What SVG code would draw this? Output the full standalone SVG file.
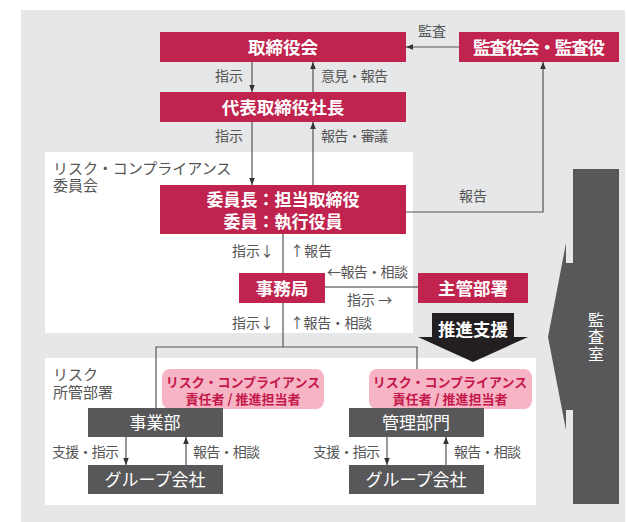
<svg xmlns="http://www.w3.org/2000/svg" width="627" height="522" viewBox="0 0 627 522">
<defs>
<style>
text{font-family:"Noto Sans CJK JP","Noto Sans",sans-serif}
.red{fill:#c0244e}
.dk{fill:#58585a}
.pill{fill:#f6b4c4}
.wt{fill:#fff;font-size:17.5px;font-weight:bold;text-anchor:middle}
.wd{fill:#fff;font-size:17px;text-anchor:middle}
.lb{fill:#555;font-size:14px}
.pt{fill:#c4174a;font-size:13px;font-weight:bold;text-anchor:middle}
.gt{fill:#555;font-size:15px}
.ln{stroke:#555;stroke-width:1.2;fill:none}
</style>
<marker id="ah" viewBox="0 0 10 10" refX="10" refY="5" markerWidth="7" markerHeight="7" markerUnits="userSpaceOnUse" orient="auto">
<path d="M0,1 L10,5 L0,9 z" fill="#333"/>
</marker>
</defs>
<rect x="21" y="10" width="604" height="512" fill="#e6e7e9"/>
<g id="committee-area">
<rect x="45" y="152" width="368" height="181" fill="#fff"/>
<text class="gt"><tspan x="53" y="174">リスク・コンプライアンス</tspan><tspan x="53" y="191">委員会</tspan></text>
</g>
<g id="dept-area">
<rect x="45" y="358" width="491" height="147" fill="#fff"/>
<text class="gt"><tspan x="53" y="380">リスク</tspan><tspan x="53" y="398">所管部署</tspan></text>
</g>
<g id="connectors">
<line class="ln" x1="459" y1="47" x2="406" y2="47" marker-end="url(#ah)"/>
<line class="ln" x1="252" y1="62" x2="252" y2="92" marker-end="url(#ah)"/>
<line class="ln" x1="313" y1="92" x2="313" y2="62" marker-end="url(#ah)"/>
<line class="ln" x1="252" y1="122" x2="252" y2="185" marker-end="url(#ah)"/>
<line class="ln" x1="313" y1="185" x2="313" y2="122" marker-end="url(#ah)"/>
<polyline class="ln" points="406,212 543,212 543,62" marker-end="url(#ah)"/>
<line class="ln" x1="283" y1="234" x2="283" y2="273"/>
<line class="ln" x1="283" y1="303" x2="283" y2="347"/>
<line class="ln" x1="325" y1="287" x2="418" y2="287" style="stroke:#333"/>
<polyline class="ln" points="156,408 156,347 417,347 417,369"/>
<line class="ln" x1="126" y1="437" x2="126" y2="465" marker-end="url(#ah)"/>
<line class="ln" x1="186" y1="465" x2="186" y2="437" marker-end="url(#ah)"/>
<line class="ln" x1="387" y1="437" x2="387" y2="465" marker-end="url(#ah)"/>
<line class="ln" x1="446" y1="465" x2="446" y2="437" marker-end="url(#ah)"/>
<text class="lb" x="432" y="36" text-anchor="middle">監査</text>
<text class="lb" x="243" y="81" text-anchor="end">指示</text>
<text class="lb" x="321" y="81" textLength="67">意見・報告</text>
<text class="lb" x="243" y="141" text-anchor="end">指示</text>
<text class="lb" x="321" y="141" textLength="67">報告・審議</text>
<text class="lb" x="473" y="201" text-anchor="middle">報告</text>
<text class="lb" x="274" y="256" text-anchor="end">指示↓</text>
<text class="lb" x="290" y="256">↑報告</text>
<text class="lb" x="327" y="277" textLength="81">←報告・相談</text>
<text class="lb" x="347" y="305">指示 →</text>
<text class="lb" x="274" y="328" text-anchor="end">指示↓</text>
<text class="lb" x="290" y="328" textLength="82">↑報告・相談</text>
<text class="lb" x="52" y="457" textLength="67">支援・指示</text>
<text class="lb" x="193" y="457" textLength="67">報告・相談</text>
<text class="lb" x="313" y="457" textLength="67">支援・指示</text>
<text class="lb" x="454" y="457" textLength="67">報告・相談</text>
</g>
<g id="board">
<rect class="red" x="160" y="32" width="246" height="30"/>
<text class="wt" x="283" y="54">取締役会</text>
</g>
<g id="auditors">
<rect class="red" x="459" y="32" width="160" height="30"/>
<text class="wt" x="539" y="54" textLength="132">監査役会・監査役</text>
</g>
<g id="president">
<rect class="red" x="160" y="92" width="246" height="30"/>
<text class="wt" x="283" y="114">代表取締役社長</text>
</g>
<g id="chair">
<rect class="red" x="160" y="185" width="246" height="49"/>
<text class="wt" style="font-size:17px"><tspan x="283" y="206">委員長：担当取締役</tspan><tspan x="283" y="228">委員：執行役員</tspan></text>
</g>
<g id="secretariat">
<rect class="red" x="239" y="273" width="86" height="30"/>
<text class="wt" x="282" y="295">事務局</text>
</g>
<g id="supervising">
<rect class="red" x="418" y="273" width="110" height="30"/>
<text class="wt" x="473" y="295">主管部署</text>
</g>
<g id="promotion">
<polygon points="432,313 514,313 514,337 528,337 473,362 418,337 432,337" fill="#231f20"/>
<text class="wt" x="473" y="336">推進支援</text>
</g>
<g id="audit-office">
<polygon class="dk" points="573,169 619,169 619,504 573,504 573,410 566,410 566,430 548,337 566,243 566,263 573,263"/>
<text style="fill:#fff;font-size:16px;text-anchor:middle;writing-mode:vertical-rl;letter-spacing:1px" x="596" y="337">監査室</text>
</g>
<g id="pill-left">
<rect class="pill" x="162" y="369" width="162" height="40" rx="8"/>
<text class="pt"><tspan x="243" y="387">リスク・コンプライアンス</tspan><tspan x="243" y="404">責任者 / 推進担当者</tspan></text>
</g>
<g id="pill-right">
<rect class="pill" x="369" y="369" width="163" height="40" rx="8"/>
<text class="pt"><tspan x="450" y="387">リスク・コンプライアンス</tspan><tspan x="450" y="404">責任者 / 推進担当者</tspan></text>
</g>
<g id="business">
<rect class="dk" x="88" y="408" width="135" height="29"/>
<text class="wd" x="155" y="429">事業部</text>
</g>
<g id="group-left">
<rect class="dk" x="88" y="465" width="135" height="29"/>
<text class="wd" x="155" y="486">グループ会社</text>
</g>
<g id="admin">
<rect class="dk" x="349" y="408" width="135" height="29"/>
<text class="wd" x="416" y="429">管理部門</text>
</g>
<g id="group-right">
<rect class="dk" x="349" y="465" width="135" height="29"/>
<text class="wd" x="416" y="486">グループ会社</text>
</g>
</svg>
